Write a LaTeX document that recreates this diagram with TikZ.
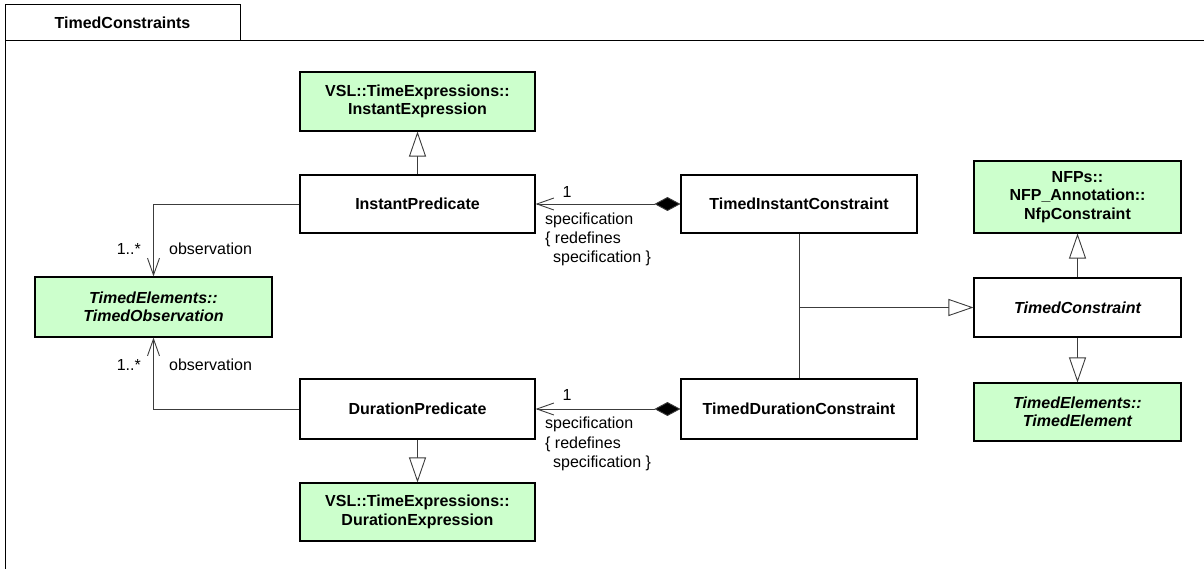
\documentclass[tikz,border=0pt]{standalone}
\usepackage{fontspec}
\setmainfont{Liberation Sans}
\usetikzlibrary{arrows.meta}
\definecolor{pkggreen}{RGB}{204,255,204}
\definecolor{conn}{RGB}{60,60,60}
\begin{document}
\begin{tikzpicture}[x=1pt,y=-1pt,
  cls/.style={draw=black,line width=1.1pt,rectangle,inner sep=0pt,align=center,
    font=\fontsize{16}{18.5}\selectfont\bfseries},
  ext/.style={cls,fill=pkggreen},
  lbl/.style={inner sep=0pt,font=\fontsize{16}{18.5}\selectfont},
  conline/.style={draw=conn,line width=0.9pt},
  gen/.style={conline,-{Triangle[open,length=25pt,width=17pt,fill=white]}},
  nav/.style={conline,-{Straight Barb[length=17pt,width=12pt]}},
  comp/.style={conline,{Diamond[length=26pt,width=14pt,fill=black]}-{Straight Barb[length=17pt,width=12pt]}}
]
\useasboundingbox (0,0) rectangle (1204,569);
% frame
\draw[line width=1pt] (5,569) -- (5,41) -- (1204,41);
\node[draw=black,line width=1pt,minimum width=235pt,minimum height=36pt,inner sep=0pt,
  font=\fontsize{16}{18.5}\selectfont\bfseries] (tab) at (122.5,23) {TimedConstraints};

% classes
\node[ext,minimum width=235pt,minimum height=59pt] (ie) at (417.5,101.5) {VSL::TimeExpressions::\\InstantExpression};
\node[cls,minimum width=235pt,minimum height=58pt] (ip) at (417.5,204) {InstantPredicate};
\node[ext,minimum width=237pt,minimum height=60pt] (to) at (153.5,307) {\itshape TimedElements::\\\itshape TimedObservation};
\node[cls,minimum width=235pt,minimum height=60pt] (dp) at (417.5,409) {DurationPredicate};
\node[ext,minimum width=235pt,minimum height=58pt] (de) at (417.5,512) {VSL::TimeExpressions::\\DurationExpression};
\node[cls,minimum width=236pt,minimum height=58pt] (tic) at (799,204) {TimedInstantConstraint};
\node[cls,minimum width=236pt,minimum height=60pt] (tdc) at (799,409) {TimedDurationConstraint};
\node[ext,minimum width=207pt,minimum height=72pt] (nfp) at (1077.5,197) {NFPs::\\NFP\_Annotation::\\NfpConstraint};
\node[cls,minimum width=207pt,minimum height=59pt] (tc) at (1077.5,307.5) {\itshape TimedConstraint};
\node[ext,minimum width=207pt,minimum height=58pt] (te) at (1077.5,412) {\itshape TimedElements::\\\itshape TimedElement};

% generalizations
\draw[gen] (ip.north) -- (ie.south);
\draw[gen] (dp.south) -- (de.north);
\draw[gen] (tc.north) -- (nfp.south);
\draw[gen] (tc.south) -- (te.north);
\coordinate (j) at (799,307.5);
\draw[conline] (tic.south) -- (tdc.north);
\draw[gen] (j) -- (tc.west);

% associations
\draw[nav] (ip.west) -| (to.north);
\draw[nav] (dp.west) -| (to.south);
\node[lbl,anchor=east] (m1) at (141,249) {1..*};
\node[lbl,anchor=west] (r1) at (169,249) {observation};
\node[lbl,anchor=east] (m2) at (141,365) {1..*};
\node[lbl,anchor=west] (r2) at (169,365) {observation};

% compositions
\draw[comp] (tic.west) -- (ip.east);
\draw[comp] (tdc.west) -- (dp.east);
\node[lbl] (c1) at (567,192) {1};
\node[lbl,anchor=west] (s1a) at (545,220) {specification};
\node[lbl,anchor=west] (s1b) at (545,239) {\{ redefines};
\node[lbl,anchor=west] (s1c) at (553,258) {specification \}};
\node[lbl] (c2) at (567,395) {1};
\node[lbl,anchor=west] (s2a) at (545,424) {specification};
\node[lbl,anchor=west] (s2b) at (545,444) {\{ redefines};
\node[lbl,anchor=west] (s2c) at (553,463) {specification \}};
\end{tikzpicture}
\end{document}
